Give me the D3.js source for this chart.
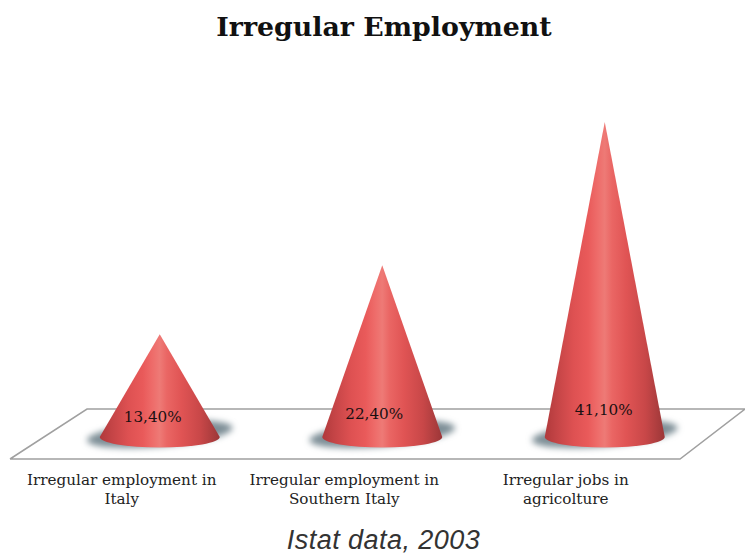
<!DOCTYPE html>
<html><head><meta charset="utf-8">
<script src="https://cdnjs.cloudflare.com/ajax/libs/d3/7.8.5/d3.min.js"></script>
<style>html,body{margin:0;padding:0;background:#fff}svg{display:block}</style>
</head><body><svg id="c" width="745" height="555"></svg>
<script>
const categories = ["Irregular employment in Italy","Irregular employment in Southern Italy","Irregular jobs in agricolture"];
const labelLines = [["Irregular employment in","Italy"],["Irregular employment in","Southern Italy"],["Irregular jobs in","agricolture"]];
const values = [13.4,22.4,41.1];
const valueLabels = ["13,40%","22,40%","41,10%"];
const title = "Irregular Employment";
const footnote = "Istat data, 2003";

const svg = d3.select("#c");
const defs = svg.append("defs");
const grad = defs.append("linearGradient").attr("id","cone").attr("x1",0).attr("x2",1).attr("y1",0).attr("y2",0);
[[0,"#b0393b"],[0.1,"#c44446"],[0.24,"#de5152"],[0.36,"#e95a5a"],[0.44,"#ee6c6a"],[0.5,"#ee7a76"],[0.56,"#ea6664"],[0.68,"#e05454"],[0.84,"#c84748"],[0.95,"#a93c3d"],[1,"#9c3638"]]
  .forEach(([o,c])=>grad.append("stop").attr("offset",o).attr("stop-color",c));
defs.append("filter").attr("id","blur").attr("x","-20%").attr("y","-50%").attr("width","140%").attr("height","200%")
  .append("feGaussianBlur").attr("stdDeviation",3);

// scales
const x = d3.scaleBand().domain(categories).range([48.5,716]).paddingInner(0).paddingOuter(0);
const y = d3.scaleLinear().domain([0,41.1]).range([437,122]);
const cx = d => x(d)+x.bandwidth()/2;
const rx=60, ry=10.5;

// floor
svg.append("path").attr("d",d3.line()([[10,459],[680,459],[745,409],[87,409],[10,459]]))
  .attr("fill","#fff").attr("stroke","#a0a0a0").attr("stroke-width",1.5);

const g = svg.selectAll("g.c").data(categories).join("g").attr("class","c");
// shadow
g.append("ellipse").attr("cx",d=>cx(d)).attr("cy",434).attr("rx",73).attr("ry",12.5)
  .attr("transform",d=>`rotate(-5 ${cx(d)} 434)`)
  .attr("fill","#7d8e96").attr("filter","url(#blur)");
// cone
g.append("path").attr("fill","url(#cone)").attr("d",(d,i)=>{
  const c=cx(d), top=y(values[i]);
  return `M${c},${top}L${c+rx},${y(0)}A${rx},${ry} 0 0 1 ${c-rx},${y(0)}Z`;
});
// value labels
const labelDx=[-7,-8,-1], labelY=[422,419,415];
g.append("text").text((d,i)=>valueLabels[i]).attr("x",(d,i)=>cx(d)+labelDx[i]).attr("y",(d,i)=>labelY[i])
  .attr("text-anchor","middle").attr("font-family","'DejaVu Serif'").attr("font-size",15.2).attr("fill","#1a1012");
// category labels
const catDx=[-38,-38,-39];
g.each(function(d,i){
  const s=d3.select(this);
  labelLines[i].forEach((t,j)=>s.append("text").text(t).attr("x",cx(d)+catDx[i]).attr("y",485+j*19)
    .attr("text-anchor","middle").attr("font-family","'DejaVu Serif'").attr("font-size",15.2).attr("fill","#222"));
});
svg.append("text").text(title).attr("x",384).attr("y",36).attr("text-anchor","middle")
  .attr("font-family","'DejaVu Serif'").attr("font-weight","bold").attr("font-size",26.8).attr("fill","#111");
svg.append("text").text(footnote).attr("x",383.5).attr("y",549.2).attr("text-anchor","middle")
  .attr("font-family","'Liberation Sans'").attr("font-style","italic").attr("font-size",27).attr("letter-spacing",0.45).attr("fill","#333");
</script></body></html>
